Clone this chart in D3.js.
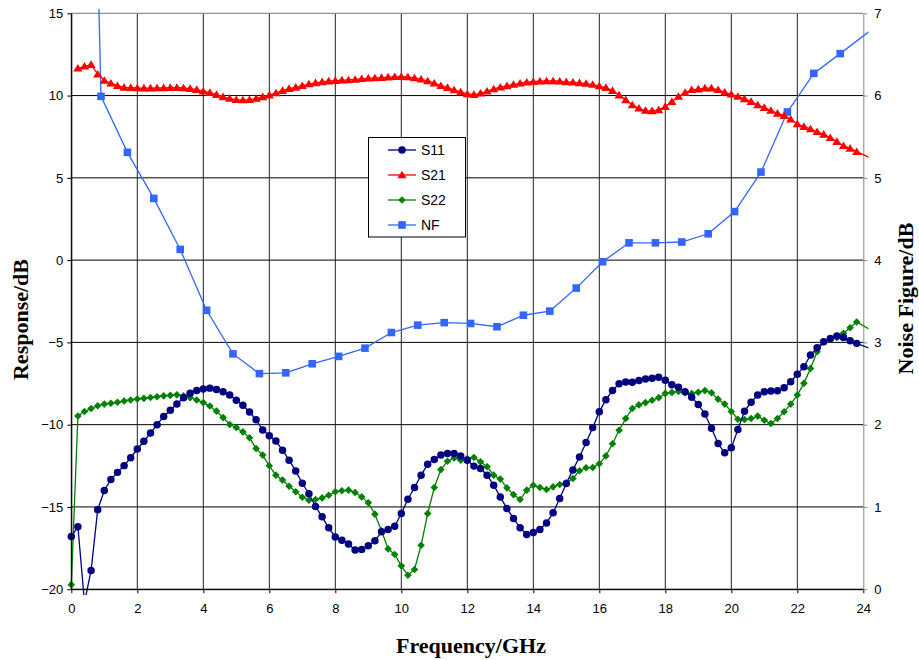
<!DOCTYPE html>
<html>
<head>
<meta charset="utf-8">
<script src="https://cdn.jsdelivr.net/npm/d3@7"></script>
<style>
  html, body { margin: 0; padding: 0; background: #fff; }
  svg { display: block; }
</style>
</head>
<body>
<svg id="chart" width="919" height="660"></svg>
<script>
// Frequency grid (GHz) shared by the S-parameter sweeps
const freq = [
  0.0, 0.2, 0.4, 0.6, 0.8, 1.0, 1.2, 1.4, 1.6, 1.8,
  2.0, 2.2, 2.4, 2.6, 2.8, 3.0, 3.2, 3.4, 3.6, 3.8,
  4.0, 4.2, 4.4, 4.6, 4.8, 5.0, 5.2, 5.4, 5.6, 5.8,
  6.0, 6.2, 6.4, 6.6, 6.8, 7.0, 7.2, 7.4, 7.6, 7.8,
  8.0, 8.2, 8.4, 8.6, 8.8, 9.0, 9.2, 9.4, 9.6, 9.8,
  10.0, 10.2, 10.4, 10.6, 10.8, 11.0, 11.2, 11.4, 11.6, 11.8,
  12.0, 12.2, 12.4, 12.6, 12.8, 13.0, 13.2, 13.4, 13.6, 13.8,
  14.0, 14.2, 14.4, 14.6, 14.8, 15.0, 15.2, 15.4, 15.6, 15.8,
  16.0, 16.2, 16.4, 16.6, 16.8, 17.0, 17.2, 17.4, 17.6, 17.8,
  18.0, 18.2, 18.4, 18.6, 18.8, 19.0, 19.2, 19.4, 19.6, 19.8,
  20.0, 20.2, 20.4, 20.6, 20.8, 21.0, 21.2, 21.4, 21.6, 21.8,
  22.0, 22.2, 22.4, 22.6, 22.8, 23.0, 23.2, 23.4, 23.6, 23.8,
  24.2
];

// Input match S11 (dB)
const s11 = [
  -16.8, -16.2, -20.8, -18.86, -15.17, -14.0, -13.34, -12.9, -12.49, -12.01,
  -11.48, -11.01, -10.51, -10.0, -9.5, -9.12, -8.74, -8.36, -8.09, -7.93,
  -7.83, -7.78, -7.86, -8.0, -8.2, -8.52, -8.82, -9.23, -9.7, -10.33,
  -10.68, -11.0, -11.55, -12.16, -12.81, -13.56, -14.2, -14.97, -15.6, -16.27,
  -16.82, -17.02, -17.26, -17.62, -17.58, -17.36, -17.06, -16.51, -16.37, -16.17,
  -15.4, -14.53, -13.82, -13.07, -12.4, -12.12, -11.85, -11.75, -11.75, -11.91,
  -12.16, -12.52, -12.66, -13.07, -13.68, -14.39, -15.1, -15.7, -16.27, -16.68,
  -16.55, -16.37, -15.97, -15.36, -14.49, -13.58, -12.75, -11.97, -11.09, -10.18,
  -9.22, -8.48, -7.93, -7.52, -7.41, -7.42, -7.32, -7.22, -7.18, -7.12,
  -7.3, -7.58, -7.72, -8.0, -8.33, -8.78, -9.35, -10.22, -11.15, -11.71,
  -11.41, -10.29, -9.18, -8.64, -8.2, -8.0, -7.96, -7.94, -7.76, -7.39,
  -6.93, -6.48, -5.77, -5.32, -4.96, -4.76, -4.61, -4.7, -4.9, -5.06,
  -5.37
];

// Gain S21 (dB); no reading at 0 GHz
const s21 = [
  null, 11.66, 11.78, 11.88, 11.30, 10.92, 10.75, 10.60, 10.50, 10.48,
  10.46, 10.45, 10.45, 10.46, 10.47, 10.48, 10.48, 10.46, 10.42, 10.36,
  10.26, 10.18, 10.06, 9.92, 9.82, 9.75, 9.73, 9.75, 9.82, 9.92,
  10.03, 10.16, 10.30, 10.42, 10.50, 10.60, 10.70, 10.77, 10.83, 10.88,
  10.91, 10.94, 10.95, 10.98, 11.02, 11.05, 11.07, 11.09, 11.12, 11.14,
  11.15, 11.13, 11.07, 10.99, 10.89, 10.75, 10.60, 10.48, 10.34, 10.22,
  10.10, 10.06, 10.14, 10.26, 10.40, 10.51, 10.59, 10.67, 10.75, 10.81,
  10.85, 10.87, 10.89, 10.89, 10.87, 10.83, 10.81, 10.77, 10.73, 10.67,
  10.58, 10.48, 10.30, 10.03, 9.74, 9.43, 9.23, 9.09, 9.07, 9.13,
  9.33, 9.63, 9.94, 10.18, 10.35, 10.39, 10.45, 10.45, 10.35, 10.20,
  10.08, 9.94, 9.80, 9.63, 9.43, 9.27, 9.09, 8.92, 8.78, 8.56,
  8.27, 8.11, 7.97, 7.80, 7.64, 7.44, 7.20, 6.95, 6.79, 6.59,
  6.23
];

// Output match S22 (dB)
const s22 = [
  -19.73, -9.47, -9.2, -9.02, -8.85, -8.75, -8.7, -8.64, -8.56, -8.5,
  -8.44, -8.4, -8.35, -8.3, -8.25, -8.22, -8.19, -8.25, -8.36, -8.5,
  -8.66, -8.87, -9.18, -9.57, -9.99, -10.17, -10.44, -10.8, -11.45, -11.85,
  -12.5, -13.07, -13.37, -13.74, -14.08, -14.41, -14.59, -14.55, -14.45, -14.29,
  -14.08, -14.02, -13.98, -14.12, -14.39, -14.75, -15.44, -16.45, -17.55, -17.89,
  -18.58, -19.15, -18.8, -17.33, -15.4, -13.82, -12.73, -12.22, -12.02, -12.16,
  -12.06, -12.0, -12.26, -12.56, -13.07, -13.31, -13.84, -14.25, -14.55, -13.98,
  -13.68, -13.82, -13.94, -13.78, -13.64, -13.54, -13.27, -12.8, -12.62, -12.6,
  -12.38, -11.9, -11.16, -10.34, -9.63, -9.02, -8.8, -8.66, -8.52, -8.36,
  -8.1, -8.04, -7.98, -8.06, -8.11, -8.03, -7.93, -8.06, -8.45, -8.75,
  -9.2, -9.67, -9.69, -9.63, -9.48, -9.73, -9.93, -9.63, -9.22, -8.75,
  -8.2, -7.49, -6.58, -5.57, -4.96, -4.82, -4.7, -4.45, -4.11, -3.76,
  -4.22
];

// Noise figure sweep (right axis, dB)
const nfFreq = [0.1, 0.9, 1.7, 2.5, 3.3, 4.1, 4.9, 5.7, 6.5, 7.3, 8.1, 8.9, 9.7, 10.5,
  11.3, 12.1, 12.9, 13.7, 14.5, 15.3, 16.1, 16.9, 17.7, 18.5, 19.3, 20.1, 20.9,
  21.7, 22.5, 23.3, 24.9];
const nf = [19.6, 5.99, 5.31, 4.75, 4.13, 3.39, 2.86, 2.62, 2.63, 2.74, 2.83, 2.93, 3.12, 3.21,
  3.24, 3.23, 3.19, 3.33, 3.38, 3.66, 3.98, 4.21, 4.21, 4.22, 4.32, 4.59, 5.07,
  5.80, 6.27, 6.51, 7.0];

// Axis ticks
const xTicks = [0, 2, 4, 6, 8, 10, 12, 14, 16, 18, 20, 22, 24];
const leftTicks = [-20, -15, -10, -5, 0, 5, 10, 15];
const rightTicks = [0, 1, 2, 3, 4, 5, 6, 7];

const seriesNames = ["S11", "S21", "S22", "NF"];

const svg = d3.select("#chart");
const plotL = 71.3, plotR = 863.3, plotT = 13.3, plotB = 589.2;

const x = d3.scaleLinear().domain([0, 24]).range([plotL, plotR]);
const yL = d3.scaleLinear().domain([-20, 15]).range([plotB, plotT]);
const yR = d3.scaleLinear().domain([0, 7]).range([plotB, plotT]);

svg.append("rect").attr("width", 919).attr("height", 660).attr("fill", "#fff");

// Grid
const grid = svg.append("g");
grid.selectAll("line.h").data(leftTicks.filter(d => d !== 15 && d !== -20)).join("line")
  .attr("x1", plotL).attr("x2", plotR)
  .attr("y1", d => yL(d)).attr("y2", d => yL(d))
  .attr("stroke", "#000").attr("stroke-width", 1);
grid.selectAll("line.v").data(xTicks.filter(d => d > 0 && d < 24)).join("line")
  .attr("x1", d => x(d)).attr("x2", d => x(d))
  .attr("y1", plotT).attr("y2", plotB)
  .attr("stroke", "#222").attr("stroke-width", 1);
// plot area frame (top edge)
grid.append("line").attr("x1", plotL).attr("x2", plotR).attr("y1", plotT).attr("y2", plotT)
  .attr("stroke", "#777").attr("stroke-width", 1);

const tickFont = "'Liberation Sans', Arial, sans-serif";
const fmt = d3.format("d");

// Axes
const gx = svg.append("g").attr("transform", `translate(0,${plotB})`)
  .call(d3.axisBottom(x).tickValues(xTicks).tickFormat(fmt).tickSize(4).tickPadding(11).tickSizeOuter(0));
const gl = svg.append("g").attr("transform", `translate(${plotL},0)`)
  .call(d3.axisLeft(yL).tickValues(leftTicks).tickFormat(fmt).tickSize(4).tickPadding(4).tickSizeOuter(0));
const gr = svg.append("g").attr("transform", `translate(${plotR},0)`)
  .call(d3.axisRight(yR).tickValues(rightTicks).tickFormat(fmt).tickSize(4).tickPadding(7).tickSizeOuter(0));
[gx, gl, gr].forEach(g => {
  g.selectAll("text").attr("font-family", tickFont).attr("font-size", 13).attr("fill", "#000");
  g.selectAll("line").attr("stroke", "#000");
  g.select(".domain").attr("stroke", "#000");
});
gr.select(".domain").attr("stroke", "#888");
gr.selectAll("line").attr("stroke", "#888");

// Clip for the traces (slightly larger than the axes frame)
svg.append("defs").append("clipPath").attr("id", "plotclip")
  .append("rect").attr("x", 66).attr("y", 9).attr("width", 868.5 - 66).attr("height", 595 - 9);

const colors = { S11: "#000080", S21: "#FF0000", S22: "#008000", NF: "#3366FF" };

function markerPath(name) {
  if (name === "S11") return d3.symbol(d3.symbolCircle, 44)();
  if (name === "S21") return "M0,-4.3L4.6,3.3L-4.6,3.3Z";
  if (name === "S22") return "M0,-3.8L3.8,0L0,3.8L-3.8,0Z";
  return "M-3.8,-3.8H3.8V3.8H-3.8Z";
}

function drawSeries(name, xs, ys, yScale) {
  const pts = xs.map((f, i) => ({ f, v: ys[i] })).filter(p => p.v !== null);
  const line = d3.line().x(p => x(p.f)).y(p => yScale(p.v));
  svg.append("path").datum(pts)
    .attr("clip-path", "url(#plotclip)")
    .attr("d", line).attr("fill", "none")
    .attr("stroke", colors[name]).attr("stroke-width", 1.3);
  const [d0, d1] = yScale.domain();
  const shown = pts.filter(p => p.f >= 0 && p.f <= 24 && p.v >= d0 && p.v <= d1);
  svg.append("g").selectAll("path").data(shown).join("path")
    .attr("d", markerPath(name))
    .attr("transform", p => `translate(${x(p.f)},${yScale(p.v)})`)
    .attr("fill", colors[name]);
}

drawSeries("S22", freq, s22, yL);
drawSeries("S11", freq, s11, yL);
drawSeries("NF", nfFreq, nf, yR);
drawSeries("S21", freq, s21, yL);

// Left and bottom axis lines drawn on top of traces
svg.append("line").attr("x1", plotL).attr("x2", plotL).attr("y1", plotT).attr("y2", plotB)
  .attr("stroke", "#000").attr("stroke-width", 1);
svg.append("line").attr("x1", plotL).attr("x2", plotR).attr("y1", plotB).attr("y2", plotB)
  .attr("stroke", "#000").attr("stroke-width", 1);

// Legend
const lg = svg.append("g");
lg.append("rect").attr("x", 368.5).attr("y", 137.5).attr("width", 97).attr("height", 99.5)
  .attr("fill", "#fff").attr("stroke", "#000").attr("stroke-width", 1);
seriesNames.forEach((name, i) => {
  const yy = 150 + i * 25;
  lg.append("line").attr("x1", 388).attr("x2", 416).attr("y1", yy).attr("y2", yy)
    .attr("stroke", colors[name]).attr("stroke-width", 1.3);
  lg.append("path").attr("d", markerPath(name)).attr("transform", `translate(402,${yy})`)
    .attr("fill", colors[name]);
  lg.append("text").attr("x", 421).attr("y", yy).attr("dy", "0.36em")
    .attr("font-family", tickFont).attr("font-size", 14).attr("fill", "#000").text(name);
});

// Axis titles
const titleFont = "'Liberation Serif', 'Times New Roman', serif";
svg.append("text").attr("x", 471).attr("y", 653).attr("text-anchor", "middle")
  .attr("font-family", titleFont).attr("font-weight", "bold").attr("font-size", 22)
  .text("Frequency/GHz");
svg.append("text").attr("transform", "translate(28,319.5) rotate(-90)").attr("text-anchor", "middle")
  .attr("font-family", titleFont).attr("font-weight", "bold").attr("font-size", 22)
  .text("Response/dB");
svg.append("text").attr("transform", "translate(913,298.5) rotate(-90)").attr("text-anchor", "middle")
  .attr("font-family", titleFont).attr("font-weight", "bold").attr("font-size", 22)
  .text("Noise Figure/dB");
</script>
</body>
</html>
